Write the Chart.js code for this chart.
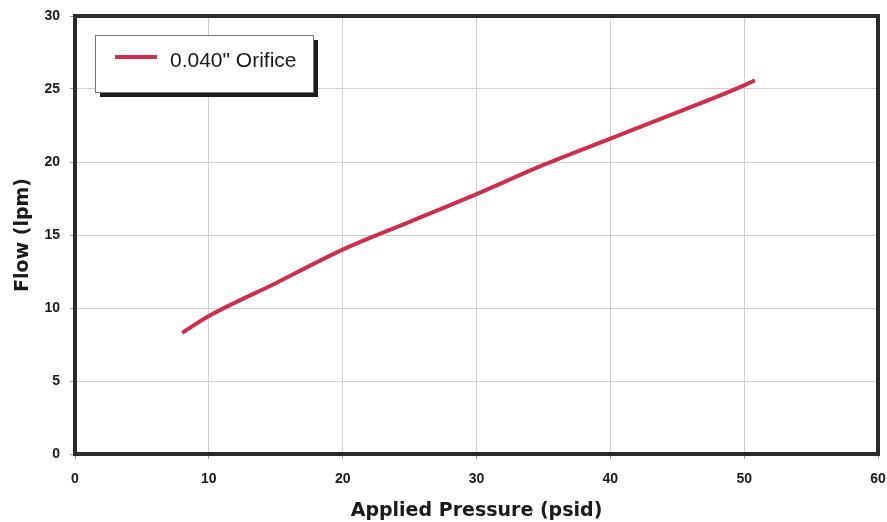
<!DOCTYPE html>
<html>
<head>
<meta charset="utf-8">
<script src="https://cdn.jsdelivr.net/npm/chart.js@4"></script>
<style>
  html, body { margin: 0; padding: 0; background: #fff; }
  #wrap { width: 887px; height: 522px; }
</style>
</head>
<body>
<div id="wrap"><canvas id="flow-chart"></canvas></div>
<script>
// values
const pressure = [8, 10, 15, 20, 25, 30, 35, 40, 45, 50, 50.8];
const flow = [8.3, 9.45, 11.7, 14.0, 15.9, 17.8, 19.8, 21.6, 23.4, 25.25, 25.6];
const seriesLabel = '0.040" Orifice';
const xTicks = [0, 10, 20, 30, 40, 50, 60];
const yTicks = [0, 5, 10, 15, 20, 25, 30];

const lineColor = "#c9304d";
const flowCanvas = document.getElementById("flow-chart");

// thick frame around the plot + boxed legend with shadow
const framePlugin = {
  id: "frame",
  afterDatasetsDraw(chart) {
    const { ctx, chartArea: a } = chart;
    ctx.save();
    ctx.strokeStyle = "#2a2a2a";
    ctx.lineWidth = 4;
    ctx.strokeRect(a.left, a.top, a.right - a.left, a.bottom - a.top);
    ctx.restore();
  },
  afterDraw(chart) {
    const { ctx } = chart;
    const bx = 95, by = 35, bw = 218, bh = 57;
    ctx.save();
    ctx.fillStyle = "#1e1e1e";
    ctx.fillRect(bx + 5, by + 5, bw, bh);
    ctx.fillStyle = "#fff";
    ctx.fillRect(bx, by, bw, bh);
    ctx.strokeStyle = "#777";
    ctx.lineWidth = 1;
    ctx.strokeRect(bx + 0.5, by + 0.5, bw, bh);
    ctx.strokeStyle = lineColor;
    ctx.lineWidth = 4;
    ctx.beginPath();
    ctx.moveTo(115, 57);
    ctx.lineTo(157, 57);
    ctx.stroke();
    ctx.fillStyle = "#1a1a1a";
    ctx.font = "21px 'Liberation Sans', Arial, sans-serif";
    ctx.textBaseline = "middle";
    ctx.fillText(seriesLabel, 170, 61);
    ctx.restore();
  },
};

const tickFont = { family: "'Liberation Sans', Arial, sans-serif", size: 14, weight: "bold" };
const titleFont = { family: "'DejaVu Sans', sans-serif", size: 19, weight: "bold" };

new Chart(flowCanvas, {
  type: "scatter",
  data: {
    datasets: [
      {
        label: seriesLabel,
        data: pressure.map((p, i) => ({ x: p, y: flow[i] })),
        showLine: true,
        borderColor: lineColor,
        borderWidth: 4,
        pointRadius: 0,
        cubicInterpolationMode: "monotone",
      },
    ],
  },
  options: {
    responsive: true,
    maintainAspectRatio: false,
    animation: false,
    layout: { padding: { top: 16, right: 9, left: 0, bottom: 0 } },
    plugins: {
      legend: { display: false },
      tooltip: { enabled: false },
    },
    scales: {
      x: {
        type: "linear",
        min: 0,
        max: 60,
        afterBuildTicks(axis) {
          axis.ticks = xTicks.map((v) => ({ value: v }));
        },
        afterFit(axis) {
          axis.height = 68;
          axis.paddingLeft = 0;
          axis.paddingRight = 0;
        },
        grid: { color: "#cfcfcf", lineWidth: 1, tickLength: 5, tickColor: "#999" },
        border: { display: false },
        ticks: { color: "#1a1a1a", font: tickFont, padding: 12, maxRotation: 0 },
        title: {
          display: true,
          text: "Applied Pressure (psid)",
          color: "#1a1a1a",
          font: titleFont,
          padding: { top: 4, bottom: 0 },
        },
      },
      y: {
        type: "linear",
        min: 0,
        max: 30,
        afterBuildTicks(axis) {
          axis.ticks = yTicks.map((v) => ({ value: v }));
        },
        afterFit(axis) {
          axis.width = 75;
          axis.paddingTop = 0;
          axis.paddingBottom = 0;
        },
        grid: { color: "#cfcfcf", lineWidth: 1, tickLength: 5, tickColor: "#999" },
        border: { display: false },
        ticks: { color: "#1a1a1a", font: tickFont, padding: 10 },
        title: {
          display: true,
          text: "Flow (lpm)",
          color: "#1a1a1a",
          font: titleFont,
          padding: { top: 12, bottom: 0 },
        },
      },
    },
  },
  plugins: [framePlugin],
});
</script>
</body>
</html>
